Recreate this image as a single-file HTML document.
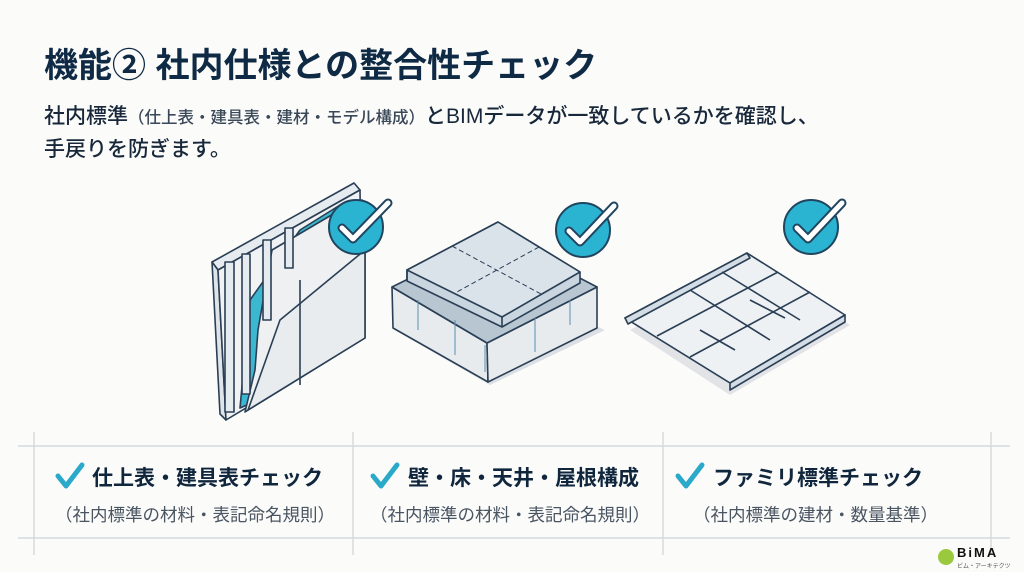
<!DOCTYPE html>
<html><head><meta charset="utf-8"><style>
html,body{margin:0;padding:0;}
body{width:1024px;height:572px;background:#fbfbfa;position:relative;overflow:hidden;font-family:"Liberation Sans","Noto Sans CJK JP",sans-serif;color:#10263d;}
.t{position:absolute;white-space:nowrap;}
</style></head><body>
<div class="t" style="left:44px;top:38px;font-size:34px;font-weight:bold;color:#0f2a44;">機能② 社内仕様との整合性チェック</div>
<div class="t" style="left:44px;top:100px;font-size:21px;font-weight:500;color:#18283a;">社内標準<span style="font-size:16.5px;color:#3a4858">（仕上表・建具表・建材・モデル構成）</span>とBIMデータが一致しているかを確認し、</div>
<div class="t" style="left:44px;top:133px;font-size:21px;font-weight:500;color:#18283a;">手戻りを防ぎます。</div>

<svg width="1024" height="572" style="position:absolute;left:0;top:0" xmlns="http://www.w3.org/2000/svg">
<g stroke="#d6d9dc" stroke-width="1.5">
<line x1="18" y1="446" x2="1010" y2="446"/><line x1="18" y1="538" x2="1010" y2="538"/>
<line x1="34" y1="432" x2="34" y2="555"/><line x1="353" y1="432" x2="353" y2="555"/>
<line x1="663" y1="432" x2="663" y2="555"/><line x1="991" y1="432" x2="991" y2="555"/>
</g>
<!-- wall -->
<g stroke="#2a3f55" stroke-width="1.6" stroke-linejoin="round">
<polygon points="212,262 354,183 360,190 218,270" fill="#e6ebef"/>
<polygon points="212,262 218,270 226,420 220,414" fill="#dfe4e8"/>
<polygon points="218,270 360,190 362,338 226,420" fill="#f0f2f4"/>
<polygon points="250,300 300,230 340,205 362,200 362,228 290,280 258,400 240,408" fill="#3bb7cf"/>
<polygon points="272,250 340,210 365,210 365,338 245,412 255,370 258,330" fill="#eef0f2"/>
<polygon points="280,320 365,250 365,338 248,410" fill="#e9ecee"/>
<line x1="300" y1="280" x2="300" y2="385"/>
<rect x="225" y="262" width="9" height="150" fill="#e6ebef"/>
<rect x="242" y="254" width="8" height="140" fill="#e6ebef"/>
<rect x="263" y="240" width="8" height="80" fill="#e6ebef"/>
<rect x="285" y="228" width="8" height="40" fill="#e6ebef"/>
</g>
<!-- slab -->
<polygon points="395,330 490,385 605,330 510,290" fill="#dcdfe3"/>
<g stroke="#2a3f55" stroke-width="1.6" stroke-linejoin="round">
<polygon points="392,287 487,343 488,382 393,328" fill="#e8ebee"/>
<polygon points="487,343 597,287 597,328 488,382" fill="#e8ebee"/>
<polygon points="392,287 497,235 597,287 487,343" fill="#b8c6d2"/>
<polygon points="407,270 498,222 580,272 580,283 502,327 407,281" fill="#c9d5df"/>
<polygon points="407,270 498,222 580,272 502,317" fill="#dbe3ea"/>
<line x1="407" y1="270" x2="407" y2="281"/><line x1="502" y1="317" x2="502" y2="327"/>
</g>
<g stroke="#2a3f55" stroke-width="1" stroke-dasharray="5,3" fill="none">
<line x1="452" y1="246" x2="541" y2="294"/><line x1="539" y1="247" x2="455" y2="293"/>
</g>
<g stroke="#5a8fb0" stroke-width="1"><line x1="418" y1="300" x2="418" y2="330"/><line x1="455" y1="320" x2="455" y2="355"/><line x1="485" y1="345" x2="485" y2="372"/><line x1="535" y1="318" x2="535" y2="352"/><line x1="570" y1="300" x2="570" y2="325"/></g>
<!-- frame -->
<polygon points="630,330 730,395 850,325 750,265" fill="#e1e3e6"/>
<g stroke="#2a3f55" stroke-width="1.6" stroke-linejoin="round" fill="#eef1f4">
<polygon points="625,318 747,253 845,315 730,383"/>
<polygon points="625,318 747,253 750,258 628,324" fill="#d4dde5"/>
<polygon points="730,383 845,315 845,322 730,390" fill="#d4dde5"/>
<line x1="657" y1="336" x2="778" y2="272"/><line x1="690" y1="357" x2="810" y2="292"/>
<line x1="690" y1="290" x2="770" y2="340"/><line x1="722" y1="272" x2="800" y2="320"/>
<line x1="700" y1="330" x2="735" y2="350"/><line x1="750" y1="300" x2="785" y2="318"/>
</g>
<!-- checks -->
<g>
<circle cx="356" cy="227" r="27" fill="#2bb3d2" stroke="#21455f" stroke-width="2"/>
<circle cx="583" cy="230" r="27" fill="#2bb3d2" stroke="#21455f" stroke-width="2"/>
<circle cx="811" cy="227" r="27" fill="#2bb3d2" stroke="#21455f" stroke-width="2"/>
<g fill="none" stroke="#21455f" stroke-width="9" stroke-linecap="round" stroke-linejoin="round">
<polyline points="342,228 353,239 388,203"/><polyline points="569,231 580,242 614,206"/><polyline points="797,228 808,239 842,203"/></g>
<g fill="none" stroke="#fff" stroke-width="5" stroke-linecap="round" stroke-linejoin="round">
<polyline points="342,228 353,239 388,203"/><polyline points="569,231 580,242 614,206"/><polyline points="797,228 808,239 842,203"/></g>
</g>
<g fill="none" stroke="#2aa9c9" stroke-width="5" stroke-linecap="round" stroke-linejoin="round">
<polyline points="58,476 66,486 82,465"/><polyline points="373,476 381,486 397,465"/><polyline points="678,476 686,486 702,465"/></g>
<circle cx="946" cy="557" r="8" fill="#9ac93e"/>
</svg>
<div class="t" style="left:92px;top:462px;font-size:21px;font-weight:bold;">仕上表・建具表チェック</div>
<div class="t" style="left:408px;top:462px;font-size:21px;font-weight:bold;">壁・床・天井・屋根構成</div>
<div class="t" style="left:713px;top:462px;font-size:21px;font-weight:bold;">ファミリ標準チェック</div>
<div class="t" style="left:55px;top:502px;font-size:17.5px;color:#4a5562;">（社内標準の材料・表記命名規則）</div>
<div class="t" style="left:370px;top:502px;font-size:17.5px;color:#4a5562;">（社内標準の材料・表記命名規則）</div>
<div class="t" style="left:693px;top:502px;font-size:17.5px;color:#4a5562;">（社内標準の建材・数量基準）</div>
<div class="t" style="left:957px;top:545px;font-size:13px;font-weight:bold;letter-spacing:2px;color:#111;">BiMA</div>
<div class="t" style="left:957px;top:561px;font-size:6px;color:#555;">ビム・アーキテクツ</div>
</body></html>
